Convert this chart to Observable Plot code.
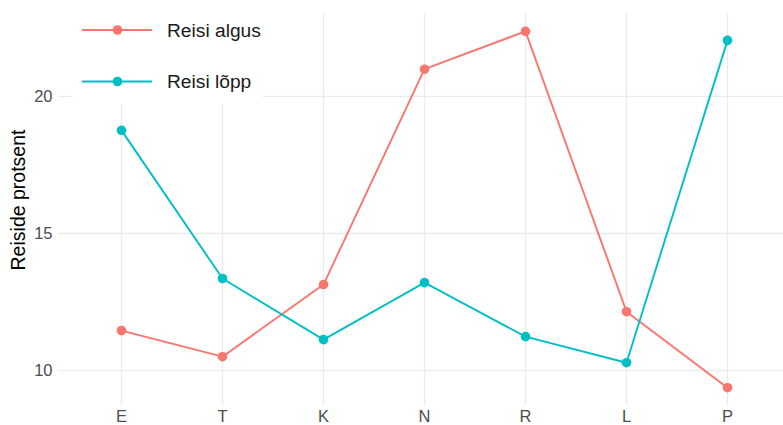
<!DOCTYPE html>
<html>
<head>
<meta charset="utf-8">
<script src="https://cdn.jsdelivr.net/npm/d3@7"></script>
<script src="https://cdn.jsdelivr.net/npm/@observablehq/plot@0.6"></script>
<style>
  html, body { margin: 0; padding: 0; background: #fff; }
  #wrap { position: relative; width: 783px; height: 425px; font-family: "Liberation Sans", Arial, sans-serif; }
  #ylab { position: absolute; left: 18px; top: 200px; transform: translate(-50%, -50%) rotate(-90deg); font-size: 19.5px; color: #000; white-space: nowrap; }
  #legend { position: absolute; left: 73px; top: 0px; width: 190px; height: 104px; background: #fff; }
</style>
</head>
<body>
<div id="wrap"></div>
<script>
const categories = ["E", "T", "K", "N", "R", "L", "P"];
const seriesNames = ["Reisi algus", "Reisi lõpp"];
const algus = [11.46, 10.51, 13.14, 20.99, 22.37, 12.15, 9.38];
const lopp = [18.76, 13.36, 11.13, 13.21, 11.24, 10.29, 22.04];
const yTicks = [10, 15, 20];
const colors = ["#F8766D", "#00BFC4"];

const data = [];
categories.forEach((c, i) => {
  data.push({cat: c, value: algus[i], series: seriesNames[0]});
  data.push({cat: c, value: lopp[i], series: seriesNames[1]});
});

const minV = d3.min(data, d => d.value), maxV = d3.max(data, d => d.value);
const pad = (maxV - minV) * 0.05;

const plot = Plot.plot({
  width: 783,
  height: 425,
  marginLeft: 58,
  marginRight: 0,
  marginTop: 13,
  marginBottom: 20,
  style: {fontFamily: "'Liberation Sans', Arial, sans-serif", background: "#fff"},
  x: {type: "point", domain: categories, range: [119, 729], padding: 0, label: null},
  y: {domain: [minV - pad, maxV + pad], label: null},
  color: {domain: seriesNames, range: colors},
  marks: [
    Plot.ruleY(yTicks, {stroke: "#ebebeb", strokeWidth: 1.3}),
    Plot.ruleX(categories, {x: d => d, stroke: "#ebebeb", strokeWidth: 1.3}),
    Plot.axisY({ticks: yTicks, tickSize: 0, tickPadding: 6, fontSize: 16.5, fill: "#4d4d4d", label: null}),
    Plot.axisX({tickSize: 0, tickPadding: 5, fontSize: 16.5, fill: "#4d4d4d", label: null}),
    Plot.line(data, {x: "cat", y: "value", z: "series", stroke: "series", strokeWidth: 1.9}),
    Plot.dot(data, {x: "cat", y: "value", fill: "series", r: 4.8})
  ]
});

const wrap = document.getElementById("wrap");
wrap.appendChild(plot);

const ylab = document.createElement("div");
ylab.id = "ylab";
ylab.textContent = "Reiside protsent";
wrap.appendChild(ylab);

const legend = document.createElement("div");
legend.id = "legend";
wrap.appendChild(legend);
const lsvg = d3.select(legend).append("svg").attr("width", 190).attr("height", 104);
seriesNames.forEach((name, i) => {
  const cy = 30 + i * 51.5;
  const g = lsvg.append("g");
  g.append("line").attr("x1", 9).attr("x2", 79).attr("y1", cy).attr("y2", cy)
    .attr("stroke", colors[i]).attr("stroke-width", 1.9);
  g.append("circle").attr("cx", 44.5).attr("cy", cy).attr("r", 4.8).attr("fill", colors[i]);
  g.append("text").attr("x", 94).attr("y", cy).attr("dy", "0.35em")
    .attr("font-family", "'Liberation Sans', Arial, sans-serif")
    .attr("font-size", 19.2).attr("fill", "#1a1a1a").text(name);
});
</script>
</body>
</html>
